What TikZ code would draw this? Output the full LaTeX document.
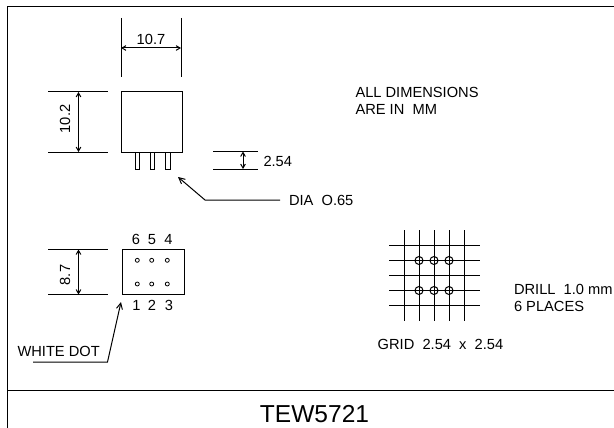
\documentclass[tikz,border=0pt]{standalone}
\usepackage{fontspec}
\setmainfont{Liberation Sans}
\usetikzlibrary{arrows.meta}

\tikzset{every picture/.style={line width=0.75pt}}
\tikzset{dimarrow/.style={{Straight Barb[length=3pt,width=3.5pt]}-{Straight Barb[length=3pt,width=3.5pt]}}}
\tikzset{leader/.style={-{Straight Barb[length=4.5pt,width=4.5pt]}}}
\tikzset{whitedot/.style={line width=0.6pt}}
\tikzset{dimtext/.style={font=\fontsize{11}{12.75}\selectfont,inner sep=0pt}}
\tikzset{titletext/.style={font=\fontsize{18.4}{22}\selectfont,inner sep=0pt}}

\begin{document}
\begin{tikzpicture}[x=0.75pt,y=0.75pt,yscale=-1]
	\useasboundingbox (0,0) rectangle (614,428);

	%Frame
	\draw (614,6.5) -- (7,6.5) -- (7,428) ;
	\draw (7,390) -- (614,390) ;

	%Width of body
	\draw (121,18) -- (121,77) ;
	\draw (181,18) -- (181,77) ;
	\draw [dimarrow] (121,48) -- (181,48) ;
	%Height of body
	\draw (48,92) -- (108,92) ;
	\draw (48,152) -- (108,152) ;
	\draw [dimarrow] (78.5,92) -- (78.5,152) ;
	%Body and pins
	\draw (121,91.5) rectangle (182,152.5) ;
	\draw (135,152.5) rectangle (139.5,169.5) ;
	\draw (150,152.5) rectangle (154.5,169.5) ;
	\draw (165.5,152.5) rectangle (170,169.5) ;
	%Length of pins
	\draw (213,151.5) -- (258,151.5) ;
	\draw (213,169) -- (258,169) ;
	\draw [dimarrow] (243,151.5) -- (243,169) ;
	%Pin diameter leader
	\draw [leader] (280,200) -- (205,200) -- (178,177) ;

	%Height of base
	\draw (48,249.5) -- (108,249.5) ;
	\draw (48,294.5) -- (108,294.5) ;
	\draw [dimarrow] (78.5,249.5) -- (78.5,294.5) ;
	%Base and dots
	\draw (122.5,249.5) rectangle (184,294.5) ;
	\draw [whitedot] (137.3,260.3) circle [radius=2] ;
	\draw [whitedot] (151.7,260.3) circle [radius=2] ;
	\draw [whitedot] (167.3,260.3) circle [radius=2] ;
	\draw [whitedot] (137.3,284) circle [radius=2] ;
	\draw [whitedot] (151.7,284) circle [radius=2] ;
	\draw [whitedot] (167.3,284) circle [radius=2] ;
	%White dot leader
	\draw [leader] (33,362) -- (107.5,362) -- (121,302) ;

	%Grid
	\draw (404.5,230) -- (404.5,320.5) ;
	\draw (419,230) -- (419,320.5) ;
	\draw (434,230) -- (434,320.5) ;
	\draw (449,230) -- (449,320.5) ;
	\draw (464,230) -- (464,320.5) ;
	\draw (389,245.5) -- (480,245.5) ;
	\draw (389,260.5) -- (480,260.5) ;
	\draw (389,275.5) -- (480,275.5) ;
	\draw (389,290.5) -- (480,290.5) ;
	\draw (389,305.5) -- (480,305.5) ;
	\draw (419,260.5) circle [radius=4] ;
	\draw (434,260.5) circle [radius=4] ;
	\draw (449,260.5) circle [radius=4] ;
	\draw (419,290.5) circle [radius=4] ;
	\draw (434,290.5) circle [radius=4] ;
	\draw (449,290.5) circle [radius=4] ;

	% Text Node
	\draw (151,39) node [dimtext] (widthlabel) {10.7};
	\draw (65,119) node [dimtext,rotate=90] (heightlabel) {10.2};
	\draw (263,161) node [dimtext,anchor=west] (pinlabel) {2.54};
	\draw (288.5,200) node [dimtext,anchor=west] (dialabel) {DIA~~O.65};
	\draw (65,275) node [dimtext,rotate=90] (baselabel) {8.7};
	\draw (355,100.5) node [dimtext,anchor=west,align=left] (unitlabel) {ALL DIMENSIONS\\ARE IN~~MM};
	% Text Node
	\draw (136,239.5) node [dimtext] (pinsix) {6};
	\draw (152,239.5) node [dimtext] (pinfive) {5};
	\draw (168.5,239.5) node [dimtext] (pinfour) {4};
	\draw (136.5,305) node [dimtext] (pinone) {1};
	\draw (152,305) node [dimtext] (pintwo) {2};
	\draw (169,305) node [dimtext] (pinthree) {3};
	% Text Node
	\draw (17,351) node [dimtext,anchor=west] (dotlabel) {WHITE DOT};
	\draw (440.5,344) node [dimtext] (gridlabel) {GRID~~2.54~~x~~2.54};
	\draw (513.5,297.5) node [dimtext,anchor=west,align=left] (drilllabel) {DRILL~~1.0 mm\\6 PLACES};
	\draw (314.5,414) node [titletext] (partlabel) {TEW5721};

\end{tikzpicture}
\end{document}
